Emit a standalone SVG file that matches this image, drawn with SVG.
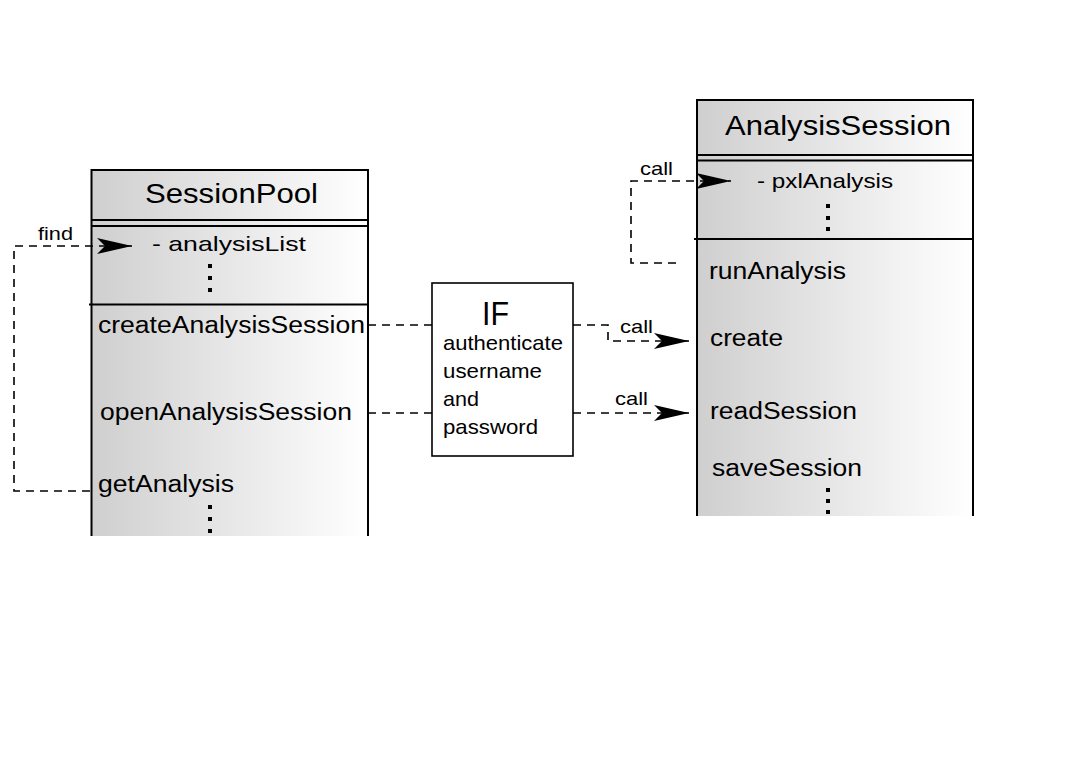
<svg xmlns="http://www.w3.org/2000/svg" width="1067" height="777" viewBox="0 0 1067 777">
<style>
text{font-family:"Liberation Sans",Arial,sans-serif;fill:#000}
.t{font-size:28.5px}
.m{font-size:23.5px}
.a{font-size:21px}
.l{font-size:19px}
.edge{fill:none;stroke:#000;stroke-width:1.6;stroke-dasharray:8,6}
.ln{stroke:#000;stroke-width:2;fill:none}
.dot{fill:#000}
</style>
<defs>
<linearGradient id="g" x1="0" y1="0" x2="1" y2="0">
<stop offset="0" stop-color="#cfcfcf"/>
<stop offset="1" stop-color="#ffffff"/>
</linearGradient>
<marker id="arr" viewBox="0 0 36 18" refX="35" refY="9" markerWidth="36" markerHeight="18" markerUnits="userSpaceOnUse" orient="auto">
<path d="M0,1 L35,9 L0,17 L8,9 Z" fill="#000"/>
</marker>
</defs>
<rect width="1067" height="777" fill="#fff"/>

<g id="SessionPool">
<rect x="91.5" y="170" width="276.5" height="366" fill="url(#g)" stroke="none"/>
<path class="ln" d="M91.5,536 V170 H368 V536"/>
<line class="ln" x1="91.5" y1="220" x2="368" y2="220"/>
<line class="ln" x1="91.5" y1="226" x2="368" y2="226"/>
<line class="ln" x1="89" y1="304.5" x2="368" y2="304.5"/>
<text class="t" x="145" y="203" textLength="173" lengthAdjust="spacingAndGlyphs">SessionPool</text>
<text class="a" x="152" y="251" textLength="154" lengthAdjust="spacingAndGlyphs">- analysisList</text>
<rect class="dot" x="208" y="264" width="4" height="4"/>
<rect class="dot" x="208" y="276" width="4" height="4"/>
<rect class="dot" x="208" y="288" width="4" height="4"/>
<text class="m" x="98" y="333" textLength="267" lengthAdjust="spacingAndGlyphs">createAnalysisSession</text>
<text class="m" x="100" y="420" textLength="252" lengthAdjust="spacingAndGlyphs">openAnalysisSession</text>
<text class="m" x="98" y="492" textLength="136" lengthAdjust="spacingAndGlyphs">getAnalysis</text>
<rect class="dot" x="208" y="505" width="4" height="4"/>
<rect class="dot" x="208" y="517" width="4" height="4"/>
<rect class="dot" x="208" y="529" width="4" height="4"/>
</g>

<g id="IF">
<rect x="432" y="283" width="141" height="173" fill="#fff" stroke="#000" stroke-width="1.6"/>
<text x="482" y="325" font-size="34" textLength="27" lengthAdjust="spacingAndGlyphs">IF</text>
<text class="a" x="443" y="350" textLength="120" lengthAdjust="spacingAndGlyphs">authenticate</text>
<text class="a" x="443" y="378" textLength="99" lengthAdjust="spacingAndGlyphs">username</text>
<text class="a" x="443" y="406" textLength="36" lengthAdjust="spacingAndGlyphs">and</text>
<text class="a" x="443" y="434" textLength="95" lengthAdjust="spacingAndGlyphs">password</text>
</g>

<g id="AnalysisSession">
<rect x="697" y="100" width="276" height="416" fill="url(#g)" stroke="none"/>
<path class="ln" d="M697,516 V100 H973 V516"/>
<line class="ln" x1="697" y1="155" x2="973" y2="155"/>
<line class="ln" x1="697" y1="160.5" x2="973" y2="160.5"/>
<line class="ln" x1="694" y1="239" x2="973" y2="239"/>
<text class="t" x="725" y="135" textLength="226" lengthAdjust="spacingAndGlyphs">AnalysisSession</text>
<text class="a" x="757" y="188" textLength="136" lengthAdjust="spacingAndGlyphs">- pxlAnalysis</text>
<rect class="dot" x="826" y="204" width="4" height="4"/>
<rect class="dot" x="826" y="216" width="4" height="4"/>
<rect class="dot" x="826" y="227" width="4" height="4"/>
<text class="m" x="709" y="279" textLength="137" lengthAdjust="spacingAndGlyphs">runAnalysis</text>
<text class="m" x="710" y="346" textLength="73" lengthAdjust="spacingAndGlyphs">create</text>
<text class="m" x="710" y="419" textLength="147" lengthAdjust="spacingAndGlyphs">readSession</text>
<text class="m" x="712" y="476" textLength="150" lengthAdjust="spacingAndGlyphs">saveSession</text>
<rect class="dot" x="826" y="488" width="4" height="4"/>
<rect class="dot" x="826" y="499" width="4" height="4"/>
<rect class="dot" x="826" y="510" width="4" height="4"/>
</g>

<g id="connectors">
<path class="edge" d="M90,491 H14 V246 H132" marker-end="url(#arr)"/>
<text class="l" x="38" y="240" textLength="35" lengthAdjust="spacingAndGlyphs">find</text>
<path class="edge" d="M368,325 H432"/>
<path class="edge" d="M368,413 H432"/>
<path class="edge" d="M573,325 H608 V341 H689" marker-end="url(#arr)"/>
<text class="l" x="620" y="333" textLength="33" lengthAdjust="spacingAndGlyphs">call</text>
<path class="edge" d="M573,413 H689" marker-end="url(#arr)"/>
<text class="l" x="615" y="405" textLength="33" lengthAdjust="spacingAndGlyphs">call</text>
<path class="edge" d="M676,263 H631 V181 H731" marker-end="url(#arr)"/>
<text class="l" x="640" y="175" textLength="33" lengthAdjust="spacingAndGlyphs">call</text>
</g>
</svg>
